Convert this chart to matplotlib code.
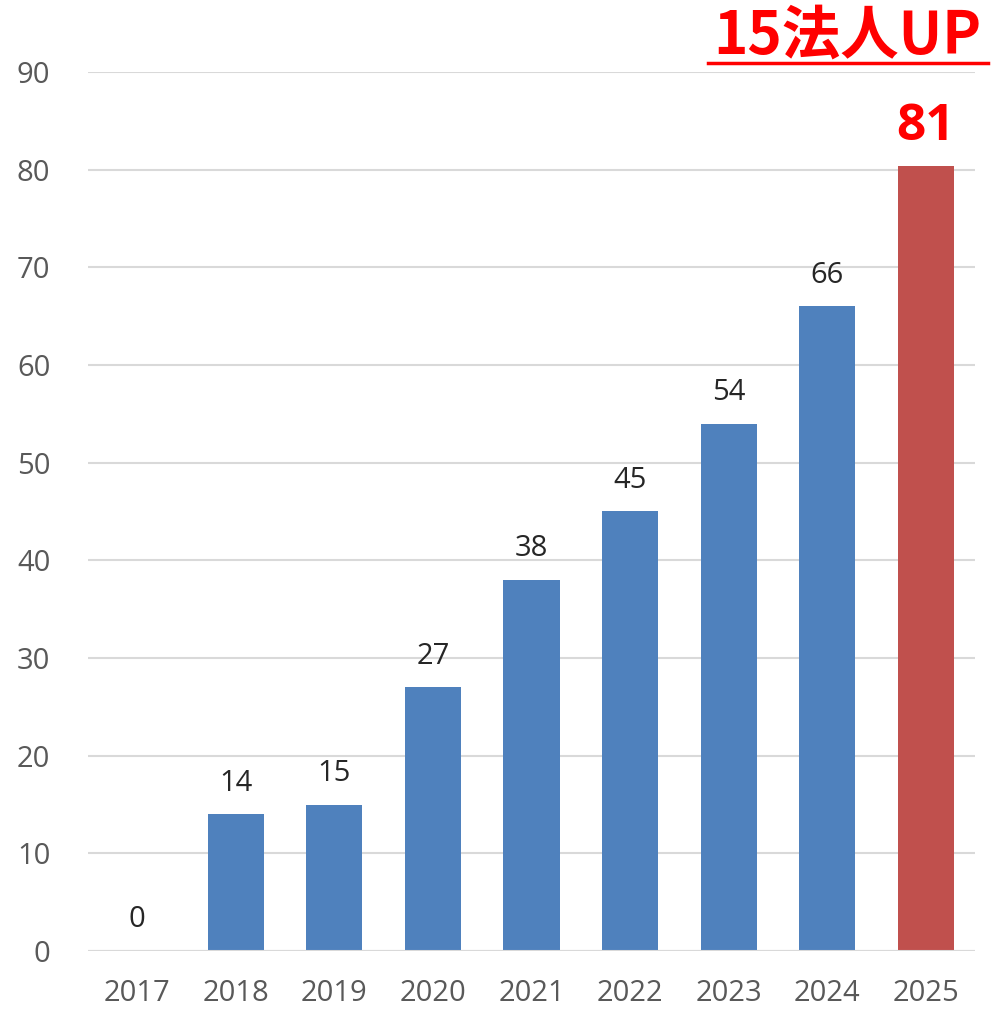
import matplotlib
matplotlib.use("Agg")
from matplotlib import pyplot as plt
from matplotlib.lines import Line2D

years = ["2017", "2018", "2019", "2020", "2021", "2022", "2023", "2024", "2025"]
counts = [0, 14, 15, 27, 38, 45, 54, 66, 80.4]
count_labels = ["0", "14", "15", "27", "38", "45", "54", "66", "81"]
yticks = [0, 10, 20, 30, 40, 50, 60, 70, 80, 90]
headline = "15法人UP"

plt.rcParams['font.family'] = ['Open Sans', 'Noto Sans CJK JP', 'DejaVu Sans']

fig = plt.figure(figsize=(9.91, 10.09), dpi=100)
ax = fig.add_axes([88 / 991, 1 - 951 / 1009, 887 / 991, (951 - 72) / 1009])

colors = ["#4F81BD"] * (len(years) - 1) + ["#C0504D"]
x = range(len(years))
ax.bar(x, counts, width=0.57, color=colors, zorder=3)

ax.set_xlim(-0.5, len(years) - 0.5)
ax.set_ylim(0, 90)
ax.set_yticks(yticks)
ax.set_xticks(list(x))
ax.set_xticklabels(years)
ax.tick_params(axis="both", length=0, labelsize=21, labelcolor="#595959")
ax.tick_params(axis="x", pad=20)
ax.tick_params(axis="y", pad=27)
for lab in ax.get_yticklabels():
  lab.set_horizontalalignment("right")
ax.yaxis.grid(True, color="#D9D9D9", linewidth=1.5, zorder=0)
for s in ax.spines.values():
  s.set_visible(False)
ax.axhline(0, color="#D9D9D9", linewidth=1.5, zorder=4)

# data labels
for i, (v, t) in enumerate(zip(counts, count_labels)):
  if i == len(years) - 1:
    ax.annotate(t, (i, v), xytext=(0, 10), textcoords="offset points",
                ha="center", va="bottom", fontsize=37, fontweight="bold",
                color="#FF0000")
  else:
    ax.annotate(t, (i, v), xytext=(0, 12), textcoords="offset points",
                ha="center", va="bottom", fontsize=21, color="#262626")

# headline with underline
fig.text(847 / 991, 1 - 37 / 1009, headline, ha="center", va="center",
         fontsize=42, fontweight="bold", color="#FF0000",
         family=['Noto Sans CJK JP', 'DejaVu Sans'])
fig.add_artist(Line2D([708 / 991, 988 / 991], [1 - 63 / 1009, 1 - 63 / 1009],
                      color="#FF0000", linewidth=2.5))

fig.savefig("out.png", dpi=100)
